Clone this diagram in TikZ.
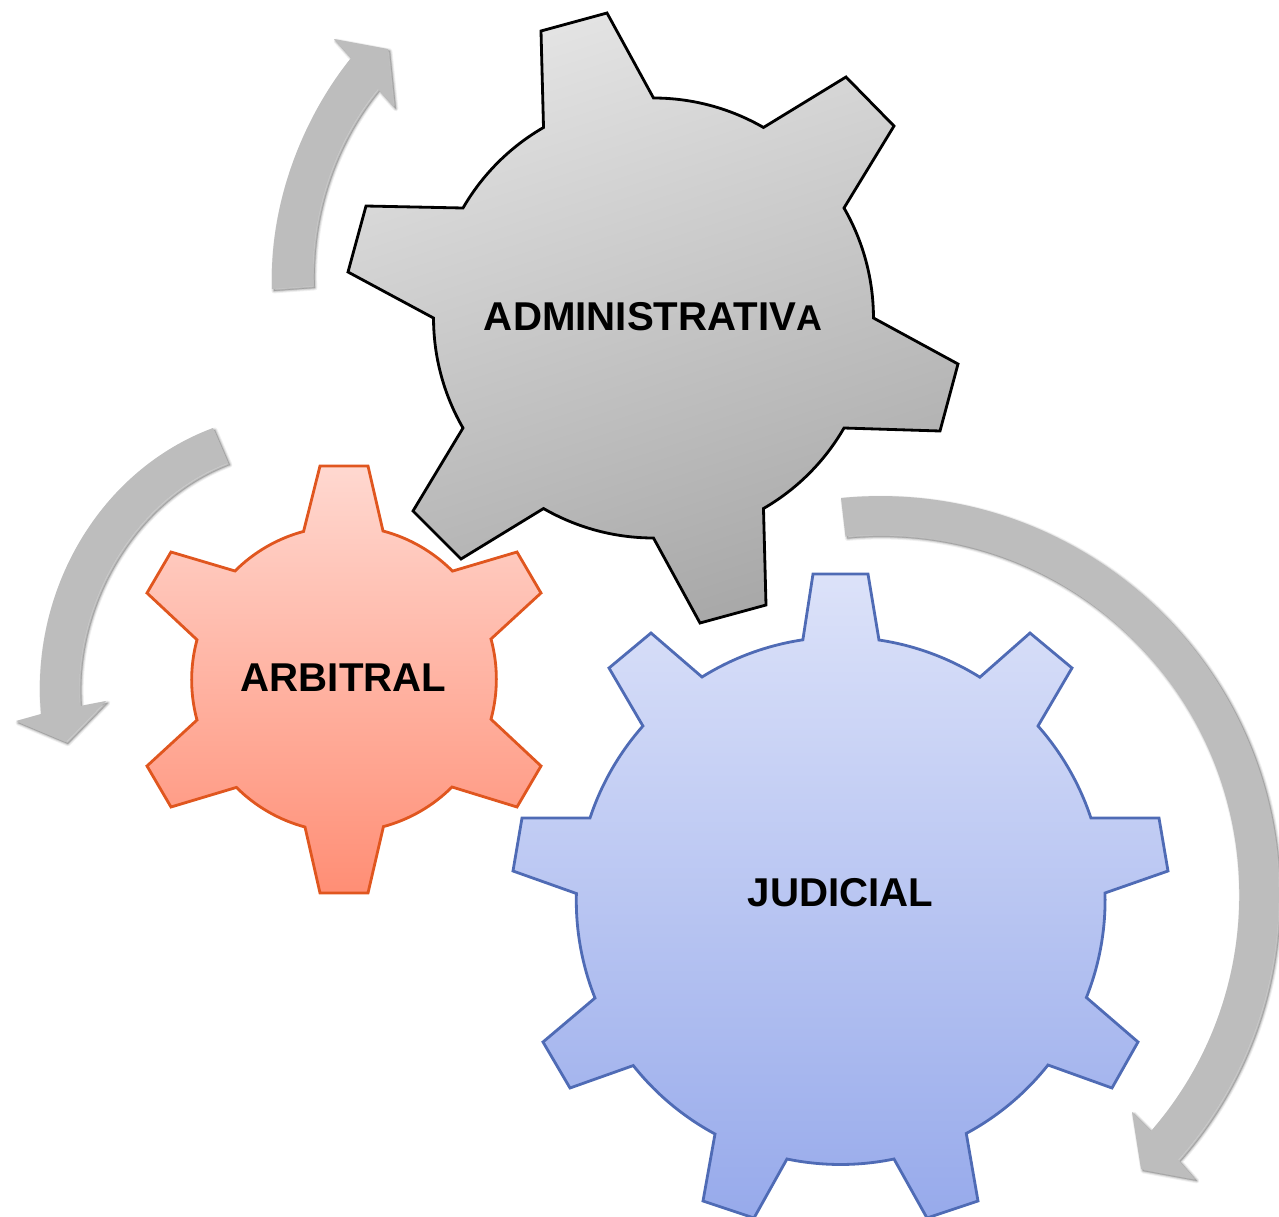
\documentclass[tikz,border=0pt]{standalone}
\usepackage{fontspec}
\setmainfont{Liberation Sans}
\usepackage{tikz}
\definecolor{arrowgrey}{HTML}{BDBDBD}
\definecolor{grayline}{HTML}{000000}
\definecolor{redline}{HTML}{E0561F}
\definecolor{blueline}{HTML}{4F6BB5}
\tikzset{
  softshadow/.style={
    preaction={draw=black,fill=black,draw opacity=.06,fill opacity=.06,line join=round,line width=2.8pt,transform canvas={shift={(1.1pt,-1.1pt)}}},
    preaction={draw=black,fill=black,draw opacity=.09,fill opacity=.06,line join=round,line width=1.7pt,transform canvas={shift={(1.1pt,-1.1pt)}}},
    preaction={draw=black,fill=black,draw opacity=.12,fill opacity=.06,line join=round,line width=.7pt,transform canvas={shift={(1.1pt,-1.1pt)}}}},
  turnarrow/.style={fill=arrowgrey,softshadow},
  graygear/.style={draw=grayline,line width=1.6pt,top color=black!11,bottom color=black!34,shading angle=18},
  redgear/.style={draw=redline,line width=1.6pt,top color=redtop,bottom color=redbottom},
  bluegear/.style={draw=blueline,line width=1.6pt,top color=bluetop,bottom color=bluebottom},
  gearlabel/.style={font=\fontsize{22.9}{24}\selectfont\bfseries,inner sep=0pt}
}
\definecolor{redtop}{HTML}{FFD8D0}
\definecolor{redbottom}{HTML}{FF8E75}
\definecolor{bluetop}{HTML}{DCE2F9}
\definecolor{bluebottom}{HTML}{97AAEB}
\begin{document}
\begin{tikzpicture}[x=0.02cm,y=-0.02cm]
\useasboundingbox (0,0) rectangle (1279,1217);
% Turning arrows
\fill[turnarrow] (272,289) .. controls (269,200) and (305,115) .. (351,58) -- (334,39) -- (388,49) -- (394,107) -- (378,89)
  .. controls (340,135) and (310,205) .. (313,286) -- cycle;
\fill[turnarrow] (213,428) .. controls (100,470) and (30,590) .. (41,714) -- (16,721) -- (66,742) -- (106,701) -- (80,706)
  .. controls (72,610) and (130,500) .. (228,463) -- cycle;
\fill[turnarrow] (841,498) arc[start angle=95.6,end angle=-41.6,radius=7.98cm] -- (1195,1179) -- (1141,1169) -- (1132,1112) -- (1151,1131)
  arc[start angle=-41,end angle=95.4,radius=7.2cm] -- cycle;
% Administrative gear
\draw[graygear] (541,31) -- (607,13) -- (653.5,98) arc[start angle=90,end angle=60,radius=4.4cm]
  -- (846,77) -- (894,126) -- (844,208) arc[start angle=30,end angle=0,radius=4.4cm]
  -- (958,364) -- (940,431) -- (844,428) arc[start angle=-30,end angle=-60,radius=4.4cm]
  -- (766,605) -- (700,623) -- (653.5,538) arc[start angle=-90,end angle=-120,radius=4.4cm]
  -- (461,559) -- (413,511) -- (463,428) arc[start angle=-150,end angle=-180,radius=4.4cm]
  -- (348,272) -- (366,206) -- (463,208) arc[start angle=150,end angle=120,radius=4.4cm] -- cycle;
% Arbitral gear
\draw[redgear] (320,466) -- (368,466) -- (383,531) arc[start angle=75.2,end angle=44.8,radius=3.06cm]
  -- (517,552) -- (541,593) -- (491,639) arc[start angle=15.2,end angle=-15.2,radius=3.06cm]
  -- (541,766) -- (517,807) -- (452,787) arc[start angle=-45,end angle=-75,radius=3.06cm]
  -- (368,893) -- (320,893) -- (305,827) arc[start angle=-105,end angle=-135,radius=3.06cm]
  -- (171,807) -- (147,766) -- (197,720) arc[start angle=195.2,end angle=164.8,radius=3.06cm]
  -- (147,593) -- (171,552) -- (235,571) arc[start angle=135,end angle=105,radius=3.06cm] -- cycle;
% Judicial gear
\draw[bluegear] (813,574) -- (868,574) -- (879,640) arc[start angle=81.5,end angle=58,radius=5.28cm]
  -- (1030,633) -- (1072,668) -- (1038,726) arc[start angle=41.5,end angle=18.3,radius=5.28cm]
  -- (1159,818) -- (1168,871) -- (1105,893) arc[start angle=1.5,end angle=-21.7,radius=5.28cm]
  -- (1138,1042) -- (1112,1088) -- (1048,1065) arc[start angle=-38.4,end angle=-61.7,radius=5.28cm]
  -- (978,1201) -- (927,1218) -- (894,1159) arc[start angle=-78.3,end angle=-101.7,radius=5.28cm]
  -- (754,1218) -- (703,1201) -- (715,1134) arc[start angle=-118.3,end angle=-141.6,radius=5.28cm]
  -- (570,1088) -- (543,1042) -- (595,998) arc[start angle=-158.3,end angle=-181.5,radius=5.28cm]
  -- (513,871) -- (522,818) -- (590,818) arc[start angle=161.7,end angle=138.5,radius=5.28cm]
  -- (609,668) -- (651,633) -- (702,677) arc[start angle=122,end angle=98.5,radius=5.28cm] -- cycle;
% Labels
\node[gearlabel] (administrativa) at (653,317) {ADMINISTRATIV{\fontsize{20.4}{24}\selectfont A}};
\node[gearlabel] (arbitral) at (343.5,678) {ARBITRAL};
\node[gearlabel] (judicial) at (840.5,893) {JUDICIAL};
\end{tikzpicture}
\end{document}
